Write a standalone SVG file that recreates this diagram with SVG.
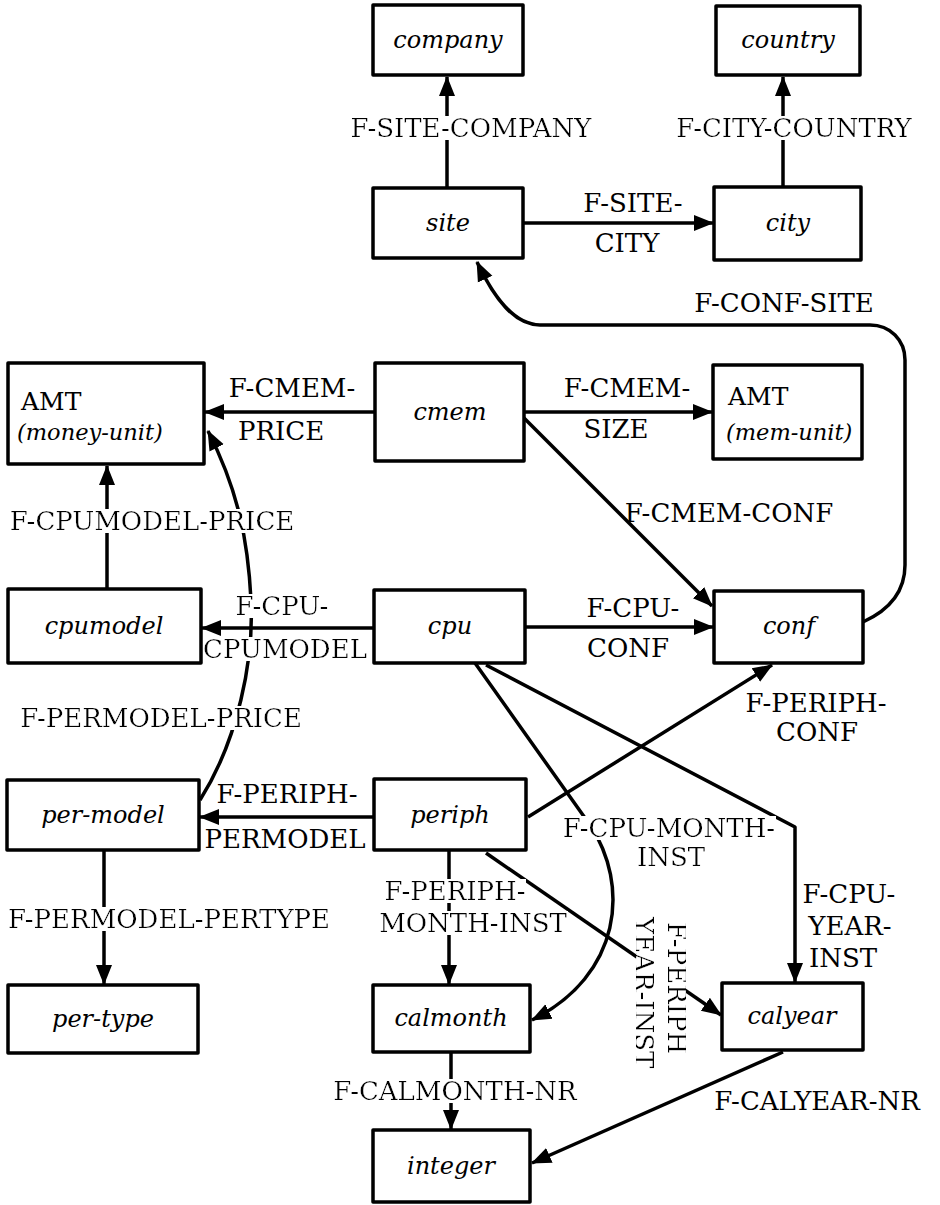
<svg xmlns="http://www.w3.org/2000/svg" width="940" height="1205" viewBox="0 0 940 1205">
<defs>
<style>
.box{fill:#fff;stroke:#000;stroke-width:3.5;stroke-linejoin:round}
.nt{font-family:'DejaVu Serif',serif;font-style:italic;font-size:24px;text-anchor:middle;fill:#000}
.nu{font-family:'DejaVu Serif',serif;font-size:25px;fill:#000}
.ni{font-family:'DejaVu Serif',serif;font-style:italic;font-size:22.5px;fill:#000}
.lb{font-family:'DejaVu Serif',serif;font-size:26px;text-anchor:middle;fill:#000}
.bg{filter:url(#bg)}
.cn{fill:none;stroke:#000;stroke-width:3.5;stroke-linejoin:round}
.ar{marker-end:url(#ah)}
</style>
<marker id="ah" viewBox="0 0 20 20" refX="19" refY="10" markerWidth="20" markerHeight="20" markerUnits="userSpaceOnUse" orient="auto">
<path d="M0,2 L20,10 L0,18 z" fill="#000"/>
</marker>
<filter id="bg" x="0" y="0.1" width="1" height="0.78">
<feFlood flood-color="#fff"/>
<feComposite in="SourceGraphic" operator="over"/>
</filter>
</defs>

<g id="connectors">
<path class="cn ar" d="M447,188 L447,77"/>
<path class="cn ar" d="M783,187 L783,77"/>
<path class="cn ar" d="M523,223 L713,223"/>
<path class="cn ar" d="M863,622 C885,612 905,595 905,565 L905,360 C905,340 890,325 870,325 L540,325 C515,325 495,300 477,262"/>
<path class="cn ar" d="M375,412 L205,412"/>
<path class="cn ar" d="M524,412 L712,412"/>
<path class="cn ar" d="M524,418 L712,606"/>
<path class="cn ar" d="M107,589 L107,466"/>
<path class="cn ar" d="M374,628 L202,628"/>
<path class="cn ar" d="M525,627 L713,627"/>
<path class="cn ar" d="M200,800 C238,740 254,660 251,600 C248,540 238,490 208,431"/>
<path class="cn ar" d="M374,817 L200,817"/>
<path class="cn ar" d="M528,817 L772,665"/>
<path class="cn ar" d="M475,663 L590,825 C630,885 622,975 532,1020"/>
<path class="cn ar" d="M486,665 L795,827 L795,982"/>
<path class="cn ar" d="M449,850 L449,984"/>
<path class="cn ar" d="M486,853 L721,1015"/>
<path class="cn ar" d="M104,850 L104,984"/>
<path class="cn ar" d="M451,1052 L451,1129"/>
<path class="cn ar" d="M783,1052 L532,1163"/>
</g>

<g id="labels">
<text class="lb bg" x="471" y="137">F-SITE-COMPANY</text>
<text class="lb bg" x="794" y="137">F-CITY-COUNTRY</text>
<text class="lb" x="633" y="212">F-SITE-</text>
<text class="lb" x="627" y="252">CITY</text>
<text class="lb" x="784" y="312">F-CONF-SITE</text>
<text class="lb" x="292" y="397">F-CMEM-</text>
<text class="lb" x="281" y="440">PRICE</text>
<text class="lb" x="627" y="397">F-CMEM-</text>
<text class="lb" x="616" y="438">SIZE</text>
<text class="lb" x="729" y="522">F-CMEM-CONF</text>
<text class="lb bg" x="152" y="530">F-CPUMODEL-PRICE</text>
<text class="lb bg" x="282" y="615">F-CPU-</text>
<text class="lb bg" x="285" y="658">CPUMODEL</text>
<text class="lb" x="633" y="617">F-CPU-</text>
<text class="lb" x="628" y="657">CONF</text>
<text class="lb" x="816" y="712">F-PERIPH-</text>
<text class="lb" x="817" y="741">CONF</text>
<text class="lb bg" x="161" y="727">F-PERMODEL-PRICE</text>
<text class="lb" x="287" y="803">F-PERIPH-</text>
<text class="lb" x="285" y="848">PERMODEL</text>
<text class="lb bg" x="669" y="837">F-CPU-MONTH-</text>
<text class="lb bg" x="671" y="866">INST</text>
<text class="lb bg" x="169" y="928">F-PERMODEL-PERTYPE</text>
<text class="lb bg" x="455" y="900">F-PERIPH-</text>
<text class="lb bg" x="473" y="932">MONTH-INST</text>
<text class="lb" x="849" y="903">F-CPU-</text>
<text class="lb" x="850" y="935">YEAR-</text>
<text class="lb" x="843" y="967">INST</text>
<text class="lb bg" transform="translate(668,917) rotate(90)" style="text-anchor:start"><tspan x="5" y="0">F-PERIPH</tspan><tspan x="0" y="33">YEAR-INST</tspan></text>
<text class="lb bg" x="455" y="1100">F-CALMONTH-NR</text>
<text class="lb" x="817" y="1110">F-CALYEAR-NR</text>
</g>

<g id="nodes">
<g id="company"><rect class="box" x="373" y="5" width="150" height="70"/><text class="nt" x="448" y="48">company</text></g>
<g id="country"><rect class="box" x="716" y="6" width="144" height="69"/><text class="nt" x="788" y="48">country</text></g>
<g id="site"><rect class="box" x="373" y="188" width="150" height="70"/><text class="nt" x="448" y="231">site</text></g>
<g id="city"><rect class="box" x="714" y="187" width="147" height="73"/><text class="nt" x="788" y="231">city</text></g>
<g id="amt-money"><rect class="box" x="8" y="363" width="196" height="101"/><text class="nu" x="21" y="410">AMT</text><text class="ni" x="17" y="440">(money-unit)</text></g>
<g id="cmem"><rect class="box" x="375" y="363" width="149" height="98"/><text class="nt" x="450" y="420">cmem</text></g>
<g id="amt-mem"><rect class="box" x="713" y="365" width="149" height="94"/><text class="nu" x="728" y="405">AMT</text><text class="ni" x="726" y="440">(mem-unit)</text></g>
<g id="cpumodel"><rect class="box" x="8" y="589" width="193" height="74"/><text class="nt" x="104" y="634">cpumodel</text></g>
<g id="cpu"><rect class="box" x="374" y="590" width="151" height="73"/><text class="nt" x="450" y="634">cpu</text></g>
<g id="conf"><rect class="box" x="714" y="591" width="149" height="72"/><text class="nt" x="789" y="634">conf</text></g>
<g id="per-model"><rect class="box" x="7" y="780" width="192" height="70"/><text class="nt" x="103" y="823">per-model</text></g>
<g id="periph"><rect class="box" x="374" y="779" width="152" height="71"/><text class="nt" x="450" y="823">periph</text></g>
<g id="per-type"><rect class="box" x="8" y="985" width="190" height="68"/><text class="nt" x="103" y="1027">per-type</text></g>
<g id="calmonth"><rect class="box" x="373" y="985" width="157" height="67"/><text class="nt" x="451" y="1026">calmonth</text></g>
<g id="calyear"><rect class="box" x="722" y="983" width="141" height="67"/><text class="nt" x="792" y="1024">calyear</text></g>
<g id="integer"><rect class="box" x="373" y="1130" width="157" height="72"/><text class="nt" x="451" y="1174">integer</text></g>
</g>
</svg>
